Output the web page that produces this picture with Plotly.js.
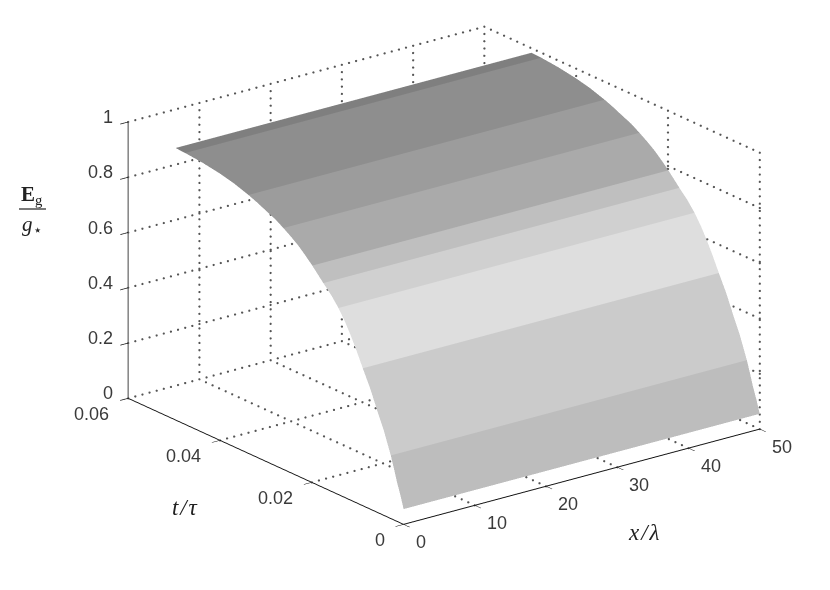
<!DOCTYPE html>
<html><head><meta charset="utf-8">
<script src="https://cdn.plot.ly/plotly-3.0.1.min.js"></script>
<style>html,body{margin:0;padding:0;background:#fff}#c{width:830px;height:590px}</style>
</head><body><div id="c"></div>
<script>
var xEnds = [0, 50];
var tRows = [0, 0.0007, 0.0015, 0.0021, 0.0028, 0.0043, 0.0058, 0.0073, 0.0089, 0.0102, 0.0115, 0.0128, 0.0142, 0.0158, 0.0175, 0.0199, 0.0215, 0.023, 0.0246, 0.0262, 0.028, 0.030, 0.0319, 0.0338, 0.037, 0.040, 0.044, 0.0476, 0.0497];
var zRows = [0.055, 0.10, 0.145, 0.185, 0.228, 0.306, 0.37, 0.437, 0.497, 0.548, 0.595, 0.637, 0.675, 0.71, 0.74, 0.785, 0.812, 0.835, 0.855, 0.873, 0.892, 0.907, 0.922, 0.935, 0.953, 0.965, 0.976, 0.982, 0.984];
var bandEnds = [0.0028, 0.0089, 0.0142, 0.0175, 0.0199, 0.0262, 0.0338, 0.0476, 0.0497];
var bandShades = ['#bdbdbd','#cbcbcb','#dedede','#d0d0d0','#bfbfbf','#aaaaaa','#9c9c9c','#8e8e8e','#7f7f7f'];
var xTicks = [0,10,20,30,40,50];
var tTicks = [0,0.02,0.04,0.06];
var zTicks = [0,0.2,0.4,0.6,0.8,1];
var xMax = 50, tMax = 0.06, zMax = 1;

var vx=[],vy=[],vz=[],fi=[],fj=[],fk=[],fc=[];
tRows.forEach(function(t,r){ xEnds.forEach(function(x){ vx.push(x); vy.push(t); vz.push(zRows[r]); }); });
for(var r=0;r<tRows.length-1;r++){
  var a=2*r,b=2*r+1,d=2*r+2,e=2*r+3, bi=0;
  while(bandEnds[bi]<tRows[r+1]) bi++;
  fi.push(a,a); fj.push(b,e); fk.push(e,d); fc.push(bandShades[bi],bandShades[bi]);
}
var surf={type:'mesh3d',x:vx,y:vy,z:vz,i:fi,j:fj,k:fk,facecolor:fc,flatshading:true,hoverinfo:'skip',showscale:false,
  lighting:{ambient:1,diffuse:0,specular:0,roughness:1,fresnel:0}};
var gx=[],gy=[],gz=[];
function seg(a,b,n){ for(var s=0;s<=n;s++){var f=s/n; gx.push(a[0]+(b[0]-a[0])*f); gy.push(a[1]+(b[1]-a[1])*f); gz.push(a[2]+(b[2]-a[2])*f);} }
xTicks.forEach(function(x){ if(x>0){ seg([x,tMax,0],[x,tMax,zMax],38); seg([x,0,0],[x,tMax,0],42);} });
tTicks.forEach(function(t){ seg([xMax,t,0],[xMax,t,zMax],38); if(t>0) seg([0,t,0],[xMax,t,0],50); });
zTicks.forEach(function(z){ seg([0,tMax,z],[xMax,tMax,z],50); seg([xMax,0,z],[xMax,tMax,z],42); });
var grid={type:'scatter3d',mode:'markers',x:gx,y:gy,z:gz,hoverinfo:'skip',showlegend:false,
  marker:{color:'#555555',size:1.3,opacity:1,line:{width:0}}};
function ax(tv,rng,col){ return {range:rng,tickvals:tv,title:{text:''},showgrid:false,zeroline:false,showbackground:false,
  showline:true,linecolor:col,linewidth:2,ticks:'outside',ticklen:10,tickcolor:'#111111',tickwidth:1.5,showspikes:false,
  autorange:false,showticklabels:false}; }
function P(x,y,text,size){ return {xref:'paper',yref:'paper',x:x/830,y:1-y/590,text:text,showarrow:false,xanchor:'center',yanchor:'middle',
  font:{family:'Liberation Serif',size:size||23,color:'#222222'}}; }
var tickFont={family:'Liberation Sans',size:18,color:'#3a3a3a'};
function L(x,y,z,text,anchor,dx,dy){ return {x:x,y:y,z:z,text:text,showarrow:false,xanchor:anchor,yanchor:'middle',xshift:dx,yshift:dy,font:tickFont}; }
var sceneLabels=[];
xTicks.forEach(function(v){ sceneLabels.push(L(v,0,0,String(v),'left',10,-18)); });
tTicks.forEach(function(v){ sceneLabels.push(L(0,v,0,String(v),'right',-17,-16)); });
zTicks.forEach(function(v){ sceneLabels.push(L(0,tMax,v,String(v),'right',-13,5)); });
var layout={width:830,height:590,margin:{l:0,r:0,t:0,b:0},paper_bgcolor:'#fff',showlegend:false,
  scene:{domain:{x:[0,1],y:[0,1]},aspectmode:'manual',aspectratio:{x:1.52,y:1.537,z:1.0},
    camera:{projection:{type:'orthographic'},eye:{x:-1.23,y:-1.447,z:0.638},up:{x:0,y:0,z:1},center:{x:-0.092,y:0.0413,z:-0.0619}},
    xaxis:ax(xTicks,[0,xMax],'#111111'),yaxis:ax(tTicks,[0,tMax],'#111111'),zaxis:ax(zTicks,[0,zMax],'#444444'),annotations:sceneLabels},
  annotations:[P(643,532,'<i>x\u200a/\u200aλ</i>'),P(185,507,'<i>t\u200a/\u200aτ</i>'),P(32,195,'<b>E</b><sub>g</sub>',21),P(32,225,'<i>g</i><sub>⋆</sub>',21)],
  shapes:[{type:'line',xref:'paper',yref:'paper',x0:19/830,x1:46/830,y0:1-209/590,y1:1-209/590,line:{color:'#222',width:1.2}}]};
Plotly.newPlot('c',[surf,grid],layout,{displayModeBar:false});
</script></body></html>
